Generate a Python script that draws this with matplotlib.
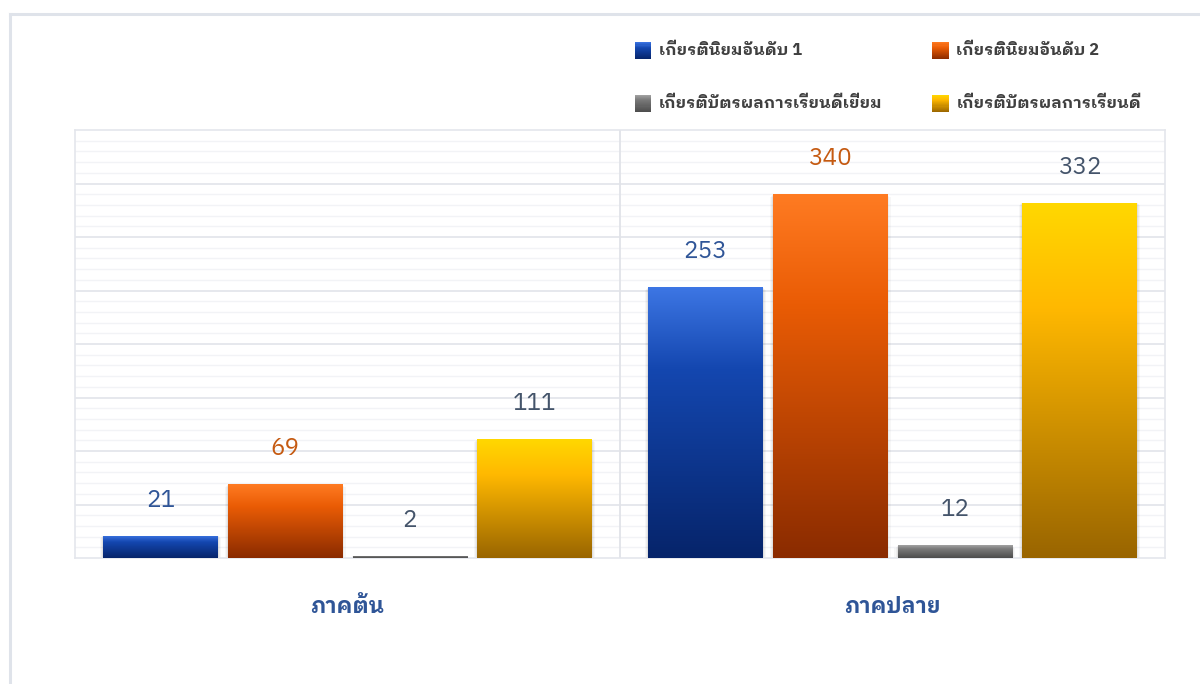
import matplotlib
matplotlib.use("Agg")
import matplotlib.pyplot as plt
import numpy as np
from matplotlib import font_manager
from matplotlib.patches import Rectangle
from matplotlib.lines import Line2D
from matplotlib.legend_handler import HandlerBase

# ---------------- data ----------------
categories = ["ภาคต้น", "ภาคปลาย"]
series_names = ["เกียรตินิยมอันดับ 1", "เกียรตินิยมอันดับ 2",
                "เกียรติบัตรผลการเรียนดีเยี่ยม", "เกียรติบัตรผลการเรียนดี"]
honor1 = [21, 253]
honor2 = [69, 340]
excellent = [2, 12]
good = [111, 332]

# ---------------- font detection ----------------
def find_thai_fonts():
    try:
        from fontTools.ttLib import TTFont
    except Exception:
        return []
    found = []
    seen = set()
    for f in font_manager.fontManager.ttflist:
        if f.name in seen:
            continue
        try:
            tt = TTFont(f.fname, fontNumber=0, lazy=True)
            cmap = tt.getBestCmap()
            if cmap and 0x0E01 in cmap and 0x0E40 in cmap:
                found.append(f.name)
                seen.add(f.name)
        except Exception:
            pass
    return found

thai = find_thai_fonts()
pref = ([n for n in thai if "Looped" in n] +
        [n for n in thai if "Thai" in n] + thai)
families = (pref[:1] if pref else []) + ["DejaVu Sans"]
plt.rcParams['font.family'] = families

# ---------------- colours ----------------
grads = [["#3d76e4", "#1447b0", "#06246a"],
         ["#ff7b22", "#ea5c05", "#8a2b00"],
         ["#a3a3a3", "#7a7a7a", "#4c4c4c"],
         ["#ffd800", "#ffb800", "#996500"]]
stops = [0.0, 0.3, 1.0]
label_colors = ["#2f5597", "#c55a11", "#44546a", "#44546a"]

W, H = 1200, 684
fig = plt.figure(figsize=(W / 100, H / 100), dpi=100)
fig.patch.set_facecolor("white")

# outer border
fig.add_artist(Line2D([10 / W, 10 / W], [0, 1 - 14 / H], color="#dfe3ea", lw=2.2))
fig.add_artist(Line2D([10 / W, 1], [1 - 14 / H, 1 - 14 / H], color="#dfe3ea", lw=2.2))

ax = fig.add_axes([75 / W, 1 - 558 / H, (1165 - 75) / W, (558 - 130) / H])
ax.set_xlim(0, 2)
ax.set_ylim(0, 400)

# grid
for y in np.arange(10, 400, 10):
    major = (y % 50 == 0)
    ax.axhline(y, color="#e4e6ec" if major else "#f2f3f6", lw=1.3 if major else 1.0, zorder=0)
ax.axvline(1, color="#e1e3e8", lw=1.3, zorder=0)
for s in ax.spines.values():
    s.set_color("#e4e6ec")
    s.set_linewidth(1.2)
ax.set_xticks([])
ax.set_yticks([])

all_vals = [honor1, honor2, excellent, good]
bw = 114 / 544
step = 124.5 / 544
offsets = [(-1.5 + i) * step for i in range(4)]
xc = np.array([0.5, 1.5])

def grad_colors(cols, t):
    rgb = np.array([matplotlib.colors.to_rgb(c) for c in cols])
    return np.stack([np.interp(t, stops, rgb[:, k]) for k in range(3)], axis=-1)

def grad_img(cols, n=256):
    t = np.linspace(0, 1, n)
    return grad_colors(cols, t)[:, None, :]

for i, vals in enumerate(all_vals):
    bars = ax.bar(xc + offsets[i], vals, width=bw, color=grads[i][0], zorder=3)
    for b, v in zip(bars, vals):
        x0, y0 = b.get_x(), b.get_y()
        w, h = b.get_width(), b.get_height()
        # soft shadow
        for k, a in enumerate([0.05, 0.04, 0.03]):
            dx = 0.002 * (k + 1)
            ax.add_patch(Rectangle((x0 - dx, y0 - 1.0 * (k + 1)), w + 2 * dx, h + 0.5,
                                   facecolor="black", alpha=a, lw=0, zorder=2))
        im = ax.imshow(grad_img(grads[i]), extent=[x0, x0 + w, y0, y0 + h],
                       aspect="auto", origin="upper", zorder=4, interpolation="bilinear")
        im.set_clip_path(b)
        ax.text(x0 + w / 2, v + 33, str(v), ha="center", va="center",
                fontsize=17.5, color=label_colors[i], zorder=5)

ax.set_xlim(0, 2)
ax.set_ylim(0, 400)

for x, c in zip(xc, categories):
    ax.text(x, -45, c, ha="center", va="center", fontsize=15.5, fontweight="bold",
            color="#2f5597", transform=ax.transData, clip_on=False)

# legend with gradient handles
class GradHandler(HandlerBase):
    def __init__(self, cols):
        super().__init__()
        self.cols = cols

    def create_artists(self, legend, orig_handle, xdescent, ydescent, width, height, fontsize, trans):
        n = 16
        size = 12
        x0 = -xdescent + (width - size)
        y0 = -ydescent + (height - size) / 2 - 1
        arts = []
        for k in range(n):
            t = 1 - (k + 0.5) / n
            col = grad_colors(self.cols, np.array([t]))[0]
            arts.append(Rectangle((x0, y0 + size * k / n), size, size / n + 0.3,
                                  facecolor=col, lw=0, transform=trans))
        return arts

handles = [Rectangle((0, 0), 1, 1) for _ in range(4)]
hmap = {h: GradHandler(g) for h, g in zip(handles, grads)}
order = [0, 2, 1, 3]  # row-major filling: row 1 = series 0,1 ; row 2 = series 2,3
leg = fig.legend([handles[k] for k in order], [series_names[k] for k in order],
                 handler_map=hmap, ncol=2,
                 loc="upper left", bbox_to_anchor=(620 / W, 1 - 28 / H),
                 frameon=False, fontsize=11.8, labelcolor="#404040",
                 handlelength=1.02, handletextpad=0.45, columnspacing=3.05,
                 labelspacing=2.28)
for t in leg.get_texts():
    t.set_fontweight("bold")

fig.savefig("out.png", dpi=100, facecolor="white")
